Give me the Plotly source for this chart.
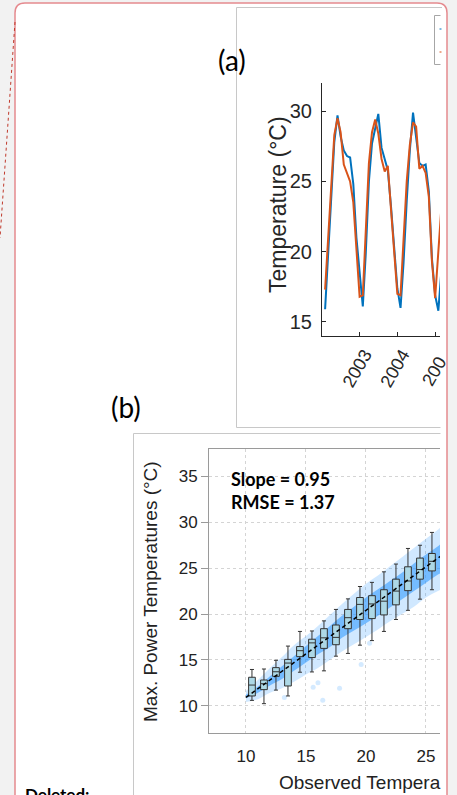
import calendar
import plotly.graph_objects as go

W, H = 457, 795


def px(x):
    return x / W


def py(y):
    return 1 - y / H


# ---------------- Panel (a): monthly temperature series ----------------
a_month_index = list(range(1, 39))  # months since Jan 2002 (end-of-month stamps)
a_dates = []
for k in a_month_index:
    yr = 2002 + (k - 1) // 12
    mo = (k - 1) % 12 + 1
    a_dates.append(f"{yr}-{mo:02d}-{calendar.monthrange(yr, mo)[1]}")

a_observed = [15.9, 19.6, 23.2, 27.8, 29.7, 28.2, 27.2, 26.8, 26.7, 24.8, 21.0, 18.4,
              16.1, 19.8, 25.0, 27.7, 28.9, 29.8, 27.4, 26.6, 25.8, 23.2, 20.4, 17.4,
              16.0, 19.2, 23.6, 27.2, 29.9, 28.3, 26.3, 26.1, 26.2, 24.3, 19.5, 16.9,
              15.8, 18.5]
a_model = [17.3, 20.5, 24.2, 28.3, 29.5, 28.5, 26.2, 25.6, 25.0, 23.5, 19.9, 16.8,
           16.9, 21.0, 26.3, 28.5, 29.4, 28.4, 26.6, 25.7, 26.1, 23.0, 19.8, 17.0,
           16.9, 20.5, 25.0, 27.6, 29.2, 28.9, 25.9, 26.1, 25.6, 23.9, 19.3, 16.7,
           19.8, 23.0]
a_tick_vals = ["2003-01-01", "2004-01-01", "2005-01-01"]
a_tick_text = ["2003", "2004", ""]          # last label is drawn clipped (below)
a_last_tick_visible = "200"                 # visible part of the clipped "2005" label
a_y_ticks = [15, 20, 25, 30]

# ---------------- Panel (b): max-power vs observed temperature ----------------
b_box_x = [10.5, 11.5, 12.5, 13.5, 14.5, 15.5, 16.5, 17.5,
           18.5, 19.5, 20.5, 21.5, 22.5, 23.5, 24.5, 25.5]
b_upper = [13.95, 14.0, 14.95, 16.5, 18.1, 18.15, 19.25, 20.5,
           21.65, 23.0, 23.45, 24.6, 25.45, 27.15, 27.5, 28.9]
b_q3 = [13.1, 12.8, 14.15, 15.05, 16.45, 17.25, 18.4, 18.8,
        20.5, 21.8, 22.0, 22.65, 23.8, 25.15, 26.1, 26.6]
b_median = [12.25, 12.4, 13.7, 14.65, 16.0, 16.85, 17.4, 17.45,
            19.6, 21.05, 21.1, 21.4, 22.5, 23.6, 24.85, 25.75]
b_q1 = [11.06, 11.75, 13.2, 12.15, 15.35, 15.25, 16.25, 16.65,
        18.4, 19.4, 19.5, 19.9, 21.0, 22.55, 23.8, 24.7]
b_lower = [10.58, 10.22, 11.7, 11.06, 13.65, 13.68, 13.8, 15.4,
           15.7, 16.6, 17.1, 18.1, 19.4, 20.4, 21.62, 22.65]

b_cloud_x = [10, 11, 12, 13, 14, 15, 16, 17, 18, 19, 20, 21, 22, 23, 24, 25, 26, 27]
b_cloud_lo_outer = [10.4, 10.7, 11.4, 11.9, 12.6, 13.4, 14.1, 15.0, 15.9, 16.7, 17.5, 18.3,
                    19.2, 20.0, 20.8, 21.8, 22.5, 23.3]
b_cloud_hi_outer = [11.6, 12.8, 14.1, 15.3, 16.6, 17.6, 18.7, 19.9, 21.1, 22.2, 23.3, 24.2,
                    25.2, 26.2, 27.2, 28.2, 29.2, 30.0]
b_cloud_lo_inner = [10.8, 11.4, 12.2, 12.9, 13.8, 14.7, 15.6, 16.4, 17.4, 18.2, 19.0, 19.8,
                    20.7, 21.6, 22.5, 23.4, 24.3, 25.0]
b_cloud_hi_inner = [11.2, 12.1, 13.2, 14.3, 15.4, 16.5, 17.6, 18.7, 19.8, 20.8, 21.8, 22.7,
                    23.6, 24.5, 25.5, 26.5, 27.4, 28.4]
b_out_x = [16.4, 16.0, 17.8, 19.6, 15.6, 13.2, 20.3]
b_out_y = [10.6, 12.5, 11.9, 14.5, 12.0, 10.9, 16.8]

b_fit_x = [10.0, 30.0]
b_fit_y = [10.9, 29.9]
b_ticks = [10, 15, 20, 25, 30, 35]
b_x_ticks = [10, 15, 20, 25]
b_x_title_visible = "Observed Tempera"   # the part of the axis title shown in the column

# ---------------- layout geometry (pixels) ----------------
A_LEFT, A_RIGHT, A_TOP, A_BOTTOM = 322, 440, 83, 336
B_LEFT, B_RIGHT, B_TOP, B_BOTTOM = 209, 440, 449, 733
a_xrange = ["2002-01-01", "2005-02-16"]
a_yrange = [14, 32]
b_xrange = [6.92, 26.17]
b_yrange = [7.02, 38.0]

AX_FONT = "Liberation Sans, Arial, sans-serif"
TEXT_DARK = "#262626"

fig = go.Figure()

# panel (a) lines
fig.add_trace(go.Scatter(x=a_dates, y=a_observed, mode="lines",
                         line=dict(color="#0072BD", width=2),
                         xaxis="x", yaxis="y", hoverinfo="skip", showlegend=False))
fig.add_trace(go.Scatter(x=a_dates, y=a_model, mode="lines",
                         line=dict(color="#D95319", width=2),
                         xaxis="x", yaxis="y", hoverinfo="skip", showlegend=False))

# panel (b) cloud (base subplot)
fig.add_trace(go.Scatter(x=b_cloud_x + b_cloud_x[::-1],
                         y=b_cloud_hi_outer + b_cloud_lo_outer[::-1],
                         mode="lines", fill="toself", fillcolor="rgba(40,150,255,0.22)",
                         line=dict(width=0, shape="spline"),
                         xaxis="x2", yaxis="y2", hoverinfo="skip", showlegend=False))
fig.add_trace(go.Scatter(x=b_cloud_x + b_cloud_x[::-1],
                         y=b_cloud_hi_inner + b_cloud_lo_inner[::-1],
                         mode="lines", fill="toself", fillcolor="rgba(40,150,255,0.55)",
                         line=dict(width=0, shape="spline"),
                         xaxis="x2", yaxis="y2", hoverinfo="skip", showlegend=False))
fig.add_trace(go.Scatter(x=b_out_x, y=b_out_y, mode="markers",
                         marker=dict(size=5, color="rgba(40,150,255,0.2)"),
                         xaxis="x2", yaxis="y2", hoverinfo="skip", showlegend=False))

# panel (b) boxes + fit line (overlay subplot so they sit above the cloud)
fig.add_trace(go.Box(x=b_box_x, q1=b_q1, median=b_median, q3=b_q3,
                     lowerfence=b_lower, upperfence=b_upper, orientation="v",
                     width=0.56, whiskerwidth=0.6, boxpoints=False,
                     fillcolor="#add8e6", line=dict(color="#333333", width=1),
                     xaxis="x4", yaxis="y4", hoverinfo="skip", showlegend=False))
fig.add_trace(go.Scatter(x=b_fit_x, y=b_fit_y, mode="lines",
                         line=dict(color="black", width=1.5, dash="4px,3px"),
                         xaxis="x4", yaxis="y4", hoverinfo="skip", showlegend=False))

shapes = []
# white page with rounded red border (fill below)
page_path = (f"M {px(15)} {py(795)} L {px(15)} {py(13)} Q {px(15)} {py(3)} {px(25)} {py(3)} "
             f"L {px(437)} {py(3)} Q {px(447)} {py(3)} {px(447)} {py(13)} L {px(447)} {py(795)} Z")
shapes.append(dict(type="path", path=page_path, xref="paper", yref="paper",
                   fillcolor="white", line=dict(width=0), layer="below"))


def hline(x0, x1, y, color, width=1):
    return dict(type="line", xref="paper", yref="paper", x0=px(x0), x1=px(x1),
                y0=py(y), y1=py(y), line=dict(color=color, width=width), layer="above")


def vline(x, y0, y1, color, width=1):
    return dict(type="line", xref="paper", yref="paper", x0=px(x), x1=px(x),
                y0=py(y0), y1=py(y1), line=dict(color=color, width=width), layer="above")


BOX_GRAY = "#c8c8c8"
# panel (a) frame
shapes.append(vline(236.5, 7.5, 427.5, BOX_GRAY))
shapes.append(hline(236.5, 442, 7.5, BOX_GRAY))
shapes.append(hline(236.5, 442, 427.5, BOX_GRAY))
# legend box of panel (a)
shapes.append(vline(434.5, 15.5, 64.5, "#a6a6a6"))
shapes.append(hline(434.5, 442, 15.5, "#a6a6a6"))
shapes.append(hline(434.5, 442, 64.5, "#a6a6a6"))
# panel (b) frame
shapes.append(vline(133.5, 433.5, 795, BOX_GRAY))
shapes.append(hline(133.5, 442, 433.5, BOX_GRAY))
# cover strip (hides content beyond the document column)
shapes.append(dict(type="rect", xref="paper", yref="paper", x0=px(440.5), x1=px(447),
                   y0=py(795), y1=py(14), fillcolor="white", line=dict(width=0), layer="above"))
shapes.append(dict(type="rect", xref="paper", yref="paper", x0=px(447), x1=px(457),
                   y0=py(795), y1=py(0), fillcolor="#f2f2f2", line=dict(width=0), layer="above"))
# legend sample stubs
shapes.append(hline(439.5, 441.5, 29, "#0072BD", 1))
shapes.append(hline(439.5, 441.5, 52, "#D95319", 1))
# red rounded border
border_path = (f"M {px(15)} {py(795)} L {px(15)} {py(13)} Q {px(15)} {py(3)} {px(25)} {py(3)} "
               f"L {px(437)} {py(3)} Q {px(447)} {py(3)} {px(447)} {py(13)} L {px(447)} {py(795)}")
shapes.append(dict(type="path", path=border_path, xref="paper", yref="paper",
                   line=dict(color="#e58a8f", width=1.5), layer="above"))
# dotted comment connector
shapes.append(dict(type="line", xref="paper", yref="paper", x0=px(15), y0=py(22),
                   x1=px(0), y1=py(238), line=dict(color="#c0392b", width=1, dash="dot"),
                   layer="above"))

annotations = [
    dict(text="(a)", x=px(232), y=py(60), font=dict(family="Lato", size=28, color="black")),
    dict(text="(b)", x=px(126), y=py(407), font=dict(family="Lato", size=28, color="black")),
    dict(text="Temperature (°C)", x=px(278), y=py(205), textangle=-90,
         font=dict(family=AX_FONT, size=23, color=TEXT_DARK)),
    dict(text=a_last_tick_visible, x=px(433.5), y=py(371.5), textangle=-60,
         font=dict(family=AX_FONT, size=18, color=TEXT_DARK)),
    dict(text="Max. Power Temperatures (°C)", x=px(150), y=py(592), textangle=-90,
         font=dict(family=AX_FONT, size=19, color="#222222")),
    dict(text=b_x_title_visible, x=px(277), y=py(782), xanchor="left",
         font=dict(family=AX_FONT, size=19, color="#222222")),
    dict(text="<b>Slope = 0.95</b>", x=px(229), y=py(479), xanchor="left",
         font=dict(family="Lato", size=18, color="black")),
    dict(text="<b>RMSE = 1.37</b>", x=px(229), y=py(502), xanchor="left",
         font=dict(family="Lato", size=18, color="black")),
    dict(text="<b>Deleted:</b>", x=px(23), y=py(782), xanchor="left", yanchor="top",
         font=dict(family="Lato", size=17, color="black")),
]
for an in annotations:
    an.setdefault("xref", "paper")
    an.setdefault("yref", "paper")
    an.setdefault("showarrow", False)
    an.setdefault("xanchor", "center")
    an.setdefault("yanchor", "middle")

fig.update_layout(
    width=W, height=H, margin=dict(l=0, r=0, t=0, b=0),
    paper_bgcolor="#f2f2f2", plot_bgcolor="white", showlegend=False,
    shapes=shapes, annotations=annotations,
    xaxis=dict(domain=[px(A_LEFT), px(A_RIGHT)], anchor="y", type="date", range=a_xrange,
               tickmode="array", tickvals=a_tick_vals, ticktext=a_tick_text, tickangle=-60,
               ticks="inside", ticklen=4, tickcolor=TEXT_DARK, showline=True,
               linecolor=TEXT_DARK, linewidth=1, showgrid=False, zeroline=False,
               tickfont=dict(family=AX_FONT, size=18, color=TEXT_DARK), ticklabelshift=5),
    xaxis3=dict(overlaying="x", side="top", anchor="y", type="date", range=a_xrange,
                tickmode="array", tickvals=a_tick_vals, ticks="inside", ticklen=4,
                tickcolor=TEXT_DARK, showticklabels=False, showline=False,
                showgrid=False, zeroline=False),
    yaxis=dict(domain=[py(A_BOTTOM), py(A_TOP)], anchor="x", range=a_yrange,
               tickmode="array", tickvals=a_y_ticks, ticks="inside", ticklen=4,
               tickcolor=TEXT_DARK, showline=True, linecolor=TEXT_DARK, linewidth=1,
               showgrid=False, zeroline=False, ticklabelstandoff=5,
               tickfont=dict(family=AX_FONT, size=20, color=TEXT_DARK)),
    xaxis2=dict(domain=[px(B_LEFT), px(B_RIGHT)], anchor="y2", range=b_xrange,
                tickmode="array", tickvals=b_x_ticks, ticks="outside", ticklen=8,
                tickcolor="rgba(0,0,0,0)", showline=True, mirror=True, linecolor="#9a9a9a",
                showgrid=True, gridcolor="#d4d4d4", griddash="dot", zeroline=False,
                tickfont=dict(family=AX_FONT, size=17, color="#222222")),
    yaxis2=dict(domain=[py(B_BOTTOM), py(B_TOP)], anchor="x2", range=b_yrange,
                tickmode="array", tickvals=b_ticks, ticks="outside", ticklen=7,
                tickcolor="#9a9a9a", showline=True, linecolor="#9a9a9a",
                showgrid=True, gridcolor="#d4d4d4", griddash="dot", zeroline=False,
                tickfont=dict(family=AX_FONT, size=17, color="#222222")),
    xaxis4=dict(overlaying="x2", anchor="y4", range=b_xrange, visible=False),
    yaxis4=dict(overlaying="y2", anchor="x4", range=b_yrange, visible=False),
)

fig.write_html(
    "out.html",
    post_script=("var st=document.createElement('style');"
                 "st.textContent='.modebar-container{display:none !important;}';"
                 "document.head.appendChild(st);"
                 "document.body.style.margin='0';"
                 "document.body.style.background='#f2f2f2';"),
)
